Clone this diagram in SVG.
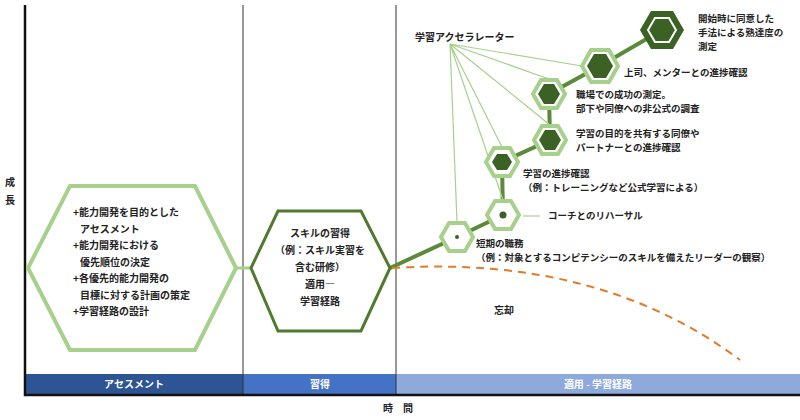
<svg xmlns="http://www.w3.org/2000/svg" width="800" height="420" viewBox="0 0 800 420">
<style>
text{font-family:"Noto Sans CJK JP","Noto Sans",sans-serif;font-size:10px;font-weight:bold;fill:#222}
.s{font-size:9.5px}
.w{fill:#fff;text-anchor:middle}
.hx{fill:#fff;stroke:#a8d08d;stroke-width:4}
.in{fill:#3b6125}
.ln{stroke:#a8d08d;stroke-width:1.2;fill:none}
.cn{stroke:#5a8a3a;stroke-width:4;fill:none}
</style>
<rect width="800" height="420" fill="#fff"/>
<g id="frame">
<rect x="25" y="374" width="218" height="21" fill="#2d5494"/>
<rect x="243" y="374" width="153" height="21" fill="#4472c4"/>
<rect x="396" y="374" width="404" height="21" fill="#8ea9db"/>
<line x1="243" y1="5" x2="243" y2="395" stroke="#333" stroke-width="1"/>
<line x1="396" y1="5" x2="396" y2="395" stroke="#333" stroke-width="1"/>
<path d="M25 5V395H800" stroke="#111" stroke-width="2.5" fill="none"/>
<text class="w" x="134" y="388">アセスメント</text>
<text class="w" x="320" y="388">習得</text>
<text class="w" x="598" y="388">適用 - 学習経路</text>
<text x="5" y="186">成</text><text x="5" y="204">長</text>
<text x="383" y="412">時　間</text>
</g>
<g id="connectors">
<line x1="236" y1="268" x2="251" y2="268" stroke="#a8d08d" stroke-width="3"/>
<path class="cn" d="M390 268L457 237L503 215L502 162L550 140L549 94L600 66L662 30"/>
<path d="M392 268Q600 255 740 360" stroke="#e07b2a" stroke-width="2" stroke-dasharray="8,6" fill="none"/>
<path class="ln" d="M450 44L457 222M450 44L503 200M450 44L502 147M450 44L550 125M450 44L549 79M450 44L582 66"/>
<line x1="523" y1="216" x2="540" y2="216" stroke="#a8d08d" stroke-width="1.2"/>
</g>
<g id="assess">
<path d="M28 268L70 186H195L236 268L195 350H70Z" fill="#fff" stroke="#a8d08d" stroke-width="4"/>
<text x="73" y="216">+能力開発を目的とした</text>
<text x="80" y="233">アセスメント</text>
<text x="73" y="249">+能力開発における</text>
<text x="80" y="266">優先順位の決定</text>
<text x="73" y="282">+各優先的能力開発の</text>
<text x="80" y="299">目標に対する計画の策定</text>
<text x="73" y="315">+学習経路の設計</text>
</g>
<g id="acquire">
<path d="M251 268L278 211H361L390 268L361 331H278Z" fill="#fff" stroke="#4f7a2f" stroke-width="3"/>
<text x="320" y="237" text-anchor="middle">スキルの習得</text>
<text x="320" y="254" text-anchor="middle">（例：スキル実習を</text>
<text x="320" y="271" text-anchor="middle">含む研修）</text>
<text x="320" y="288" text-anchor="middle">適用―</text>
<text x="320" y="305" text-anchor="middle">学習経路</text>
</g>
<g id="accel"><text x="415" y="41">学習アクセラレーター</text></g>
<g id="n1"><path class="hx" d="M441 237L449 223H465L473 237L465 251H449Z"/><circle class="in" cx="457" cy="237" r="2"/>
<text class="s" x="476" y="247">短期の職務</text><text class="s" x="476" y="261">（例：対象とするコンピテンシーのスキルを備えたリーダーの観察）</text></g>
<g id="n2"><path class="hx" d="M487 215L495 201H511L519 215L511 229H495Z"/><circle class="in" cx="503" cy="215" r="3.5"/>
<text class="s" x="548" y="219">コーチとのリハーサル</text></g>
<g id="n3"><path class="hx" d="M486 162L494 148H510L518 162L510 176H494Z"/><path class="in" d="M492 162L497 154H507L512 162L507 170H497Z"/>
<text class="s" x="523" y="177">学習の進捗確認</text><text class="s" x="523" y="191">（例：トレーニングなど公式学習による）</text></g>
<g id="n4"><path class="hx" d="M534 140L542 126H558L566 140L558 154H542Z"/><path class="in" d="M539 140L545 130H555L561 140L555 150H545Z"/>
<text class="s" x="576" y="137">学習の目的を共有する同僚や</text><text class="s" x="576" y="151">パートナーとの進捗確認</text></g>
<g id="n5"><path class="hx" d="M533 94L541 80H557L565 94L557 108H541Z"/><path class="in" d="M538 94L544 84H554L560 94L554 104H544Z"/>
<text class="s" x="576" y="98">職場での成功の測定。</text><text class="s" x="576" y="112">部下や同僚への非公式の調査</text></g>
<g id="n6"><path class="hx" d="M582 66L591 50H609L618 66L609 82H591Z"/><path class="in" d="M587 66L594 54H606L613 66L606 78H594Z"/>
<text class="s" x="624" y="76">上司、メンターとの進捗確認</text></g>
<g id="n7"><path d="M640 30L651 11H673L684 30L673 49H651Z" fill="#3b6125"/>
<path d="M648 30L655 18H669L676 30L669 42H655Z" fill="none" stroke="#fff" stroke-width="2"/>
<path class="in" d="M653 30L658 22H666L671 30L666 38H658Z"/>
<text class="s" x="698" y="22">開始時に同意した</text><text class="s" x="698" y="36">手法による熟達度の</text><text class="s" x="698" y="50">測定</text></g>
<g id="forget"><text x="494" y="314">忘却</text></g>
</svg>
